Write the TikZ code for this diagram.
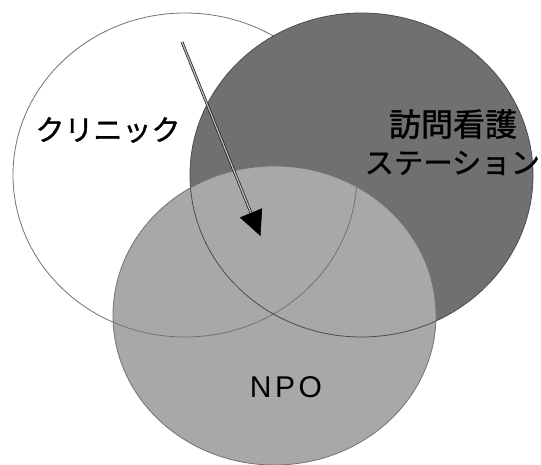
\documentclass[tikz,border=0pt]{standalone}
\usepackage{fontspec}
\setmainfont{Liberation Sans}
\newfontfamily\jpfont[FakeBold=1.2]{Noto Sans CJK JP}
\usetikzlibrary{arrows.meta,calc}
\definecolor{darkfill}{gray}{0.44}
\definecolor{npofill}{gray}{0.66}
\definecolor{rimgray}{gray}{0.45}
\tikzset{
  rim/.style={draw=rimgray, line width=0.8pt},
  label jp/.style={font=\jpfont\fontsize{29}{34}\selectfont, inner sep=0pt},
  shaft/.style={draw=black!90, line width=0.7pt, double=gray!55, double distance=1.3pt},
  tip/.style={-{Triangle[length=25pt,width=24pt]}, line width=0.6pt, draw=black, fill=black}
}
\begin{document}
\begin{tikzpicture}[x=1pt,y=-1pt]
\useasboundingbox (0,0) rectangle (541,465);
\fill[white] (0,0) rectangle (541,465);
% fills
\fill[white] (185,175) ellipse [x radius=172, y radius=162];
\fill[darkfill] (361.5,175) ellipse [x radius=171.5, y radius=162];
\fill[npofill] (274.5,315.5) ellipse [x radius=161.5, y radius=149.5];
% outlines
\draw[rim] (185,175) ellipse [x radius=172, y radius=162];
\draw[rim, draw=black!70] (361.5,175) ellipse [x radius=171.5, y radius=162];
\draw[rim] (274.5,315.5) ellipse [x radius=161.5, y radius=149.5];
% labels
\node[label jp] (clinic) at (108,130) {クリニック};
\node[label jp, font=\jpfont\fontsize{32}{36}\selectfont] (houmon) at (453,124) {訪問看護};
\node[label jp, anchor=west, font=\jpfont\fontsize{29.3}{34}\selectfont] (station) at (364.5,163) {ステーション};
\node[font=\addfontfeatures{LetterSpace=12}\fontsize{30}{36}\selectfont, inner sep=0pt] (npo) at (286,387) {NPO};
% arrow
\coordinate (atail) at (182,42);
\coordinate (abase) at (251,213);
\coordinate (ahead) at (260.5,236);
\draw[shaft] (atail) -- (abase);
\draw[tip] ($(abase)!0.2!(ahead)$) -- (ahead);
\end{tikzpicture}
\end{document}
